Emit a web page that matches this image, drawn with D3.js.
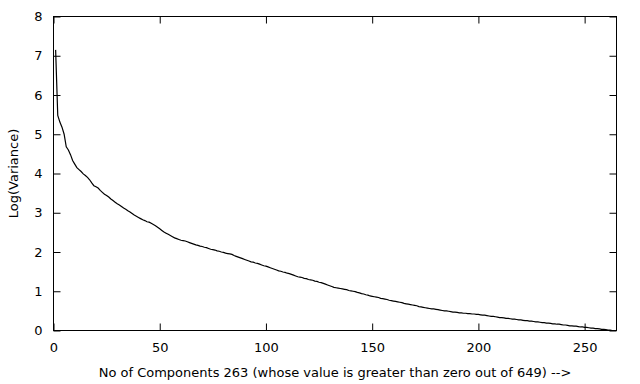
<!DOCTYPE html>
<html>
<head>
<meta charset="utf-8">
<script src="https://cdn.jsdelivr.net/npm/d3@7"></script>
<style>
  body { margin: 0; background: #fff; }
  text { font-family: "DejaVu Sans", sans-serif; font-size: 13px; fill: #000; }
</style>
</head>
<body>
<svg width="640" height="384"></svg>
<script>
// log(variance) of each component (components 1..263)
const logVariance = [
  7.15, 5.48, 5.31, 5.18, 5.00, 4.68, 4.60, 4.48, 4.33, 4.24,
  4.15, 4.10, 4.05, 3.99, 3.95, 3.90, 3.84, 3.76, 3.69, 3.66,
  3.63, 3.57, 3.52, 3.47, 3.44, 3.40, 3.35, 3.31, 3.27, 3.23,
  3.20, 3.16, 3.12, 3.09, 3.05, 3.02, 2.98, 2.94, 2.91, 2.88,
  2.85, 2.82, 2.80, 2.77, 2.76, 2.73, 2.70, 2.67, 2.63, 2.59,
  2.55, 2.51, 2.48, 2.45, 2.42, 2.39, 2.36, 2.34, 2.32, 2.30,
  2.29, 2.28, 2.26, 2.24, 2.22, 2.20, 2.18, 2.17, 2.15, 2.14,
  2.12, 2.11, 2.09, 2.07, 2.06, 2.05, 2.03, 2.02, 2.00, 1.99,
  1.97, 1.96, 1.95, 1.94, 1.91, 1.89, 1.87, 1.85, 1.83, 1.81,
  1.79, 1.77, 1.75, 1.74, 1.72, 1.71, 1.69, 1.67, 1.65, 1.64,
  1.62, 1.60, 1.58, 1.56, 1.54, 1.52, 1.51, 1.49, 1.48, 1.46,
  1.45, 1.43, 1.41, 1.39, 1.37, 1.36, 1.35, 1.33, 1.32, 1.30,
  1.29, 1.28, 1.26, 1.25, 1.23, 1.22, 1.20, 1.18, 1.16, 1.14,
  1.12, 1.10, 1.09, 1.08, 1.07, 1.06, 1.05, 1.04, 1.02, 1.01,
  1.00, 0.99, 0.97, 0.96, 0.94, 0.93, 0.91, 0.90, 0.88, 0.87,
  0.86, 0.85, 0.84, 0.82, 0.81, 0.80, 0.79, 0.77, 0.76, 0.75,
  0.74, 0.73, 0.72, 0.71, 0.69, 0.68, 0.67, 0.66, 0.65, 0.64,
  0.63, 0.61, 0.60, 0.59, 0.58, 0.57, 0.56, 0.55, 0.55, 0.54,
  0.53, 0.52, 0.51, 0.50, 0.50, 0.49, 0.48, 0.47, 0.47, 0.46,
  0.45, 0.45, 0.44, 0.44, 0.43, 0.43, 0.42, 0.42, 0.41, 0.41,
  0.40, 0.39, 0.39, 0.38, 0.37, 0.36, 0.36, 0.35, 0.34, 0.33,
  0.33, 0.32, 0.31, 0.31, 0.30, 0.29, 0.29, 0.28, 0.27, 0.27,
  0.26, 0.25, 0.25, 0.24, 0.24, 0.23, 0.22, 0.22, 0.21, 0.20,
  0.20, 0.19, 0.19, 0.18, 0.17, 0.17, 0.16, 0.16, 0.15, 0.14,
  0.14, 0.13, 0.12, 0.12, 0.11, 0.11, 0.10, 0.09, 0.09, 0.08,
  0.08, 0.07, 0.06, 0.06, 0.05, 0.05, 0.04, 0.03, 0.03, 0.02,
  0.01, 0.01, 0.00
]
const xTicks = [0, 50, 100, 150, 200, 250]
const yTicks = [0, 1, 2, 3, 4, 5, 6, 7, 8]
const xLabel = "No of Components 263 (whose value is greater than zero out of 649) -->"
const yLabel = "Log(Variance)"

let svg = d3.select("svg")
let margin = {top: 16.5, right: 23.5, bottom: 53.5, left: 53.5}
let width = svg.attr("width") - margin.left - margin.right
let height = svg.attr("height") - margin.top - margin.bottom

let data = logVariance.map((v, i) => ({n: i + 1, v: v}))

let x = d3.scaleLinear().domain([0, 265]).range([0, width])
let y = d3.scaleLinear().domain([0, 8]).range([height, 0])

let g = svg.append("g")
    .attr("transform", "translate(" + margin.left + "," + margin.top + ")")

const tick = 7

// axes with inward ticks, mirrored on top and right
let styleAxis = sel => {
  sel.attr("font-size", null).attr("font-family", null)
  sel.select(".domain").remove()
  sel.selectAll(".tick line").attr("stroke", "#000")
}

g.append("g")
    .attr("transform", "translate(0," + height + ")")
    .call(d3.axisBottom(x).tickValues(xTicks).tickSizeInner(-tick).tickSizeOuter(0).tickPadding(12))
    .call(styleAxis)

g.append("g")
    .call(d3.axisTop(x).tickValues(xTicks).tickSizeInner(-tick).tickSizeOuter(0).tickFormat(""))
    .call(styleAxis)

g.append("g")
    .call(d3.axisLeft(y).tickValues(yTicks).tickSizeInner(-tick).tickSizeOuter(0).tickPadding(11))
    .call(styleAxis)

g.append("g")
    .attr("transform", "translate(" + width + ",0)")
    .call(d3.axisRight(y).tickValues(yTicks).tickSizeInner(-tick).tickSizeOuter(0).tickFormat(""))
    .call(styleAxis)

// frame
g.append("rect")
    .attr("width", width)
    .attr("height", height)
    .attr("fill", "none")
    .attr("stroke", "#000")

// line
let line = d3.line()
    .x(d => x(d.n))
    .y(d => y(d.v))

g.append("path")
    .datum(data)
    .attr("fill", "none")
    .attr("stroke", "#000")
    .attr("stroke-width", 1.2)
    .attr("d", line)

// labels
svg.append("text")
    .attr("x", margin.left + width / 2)
    .attr("y", 377)
    .attr("text-anchor", "middle")
    .text(xLabel)

svg.append("text")
    .attr("transform", "translate(18," + (margin.top + height / 2) + ") rotate(-90)")
    .attr("text-anchor", "middle")
    .text(yLabel)
</script>
</body>
</html>
